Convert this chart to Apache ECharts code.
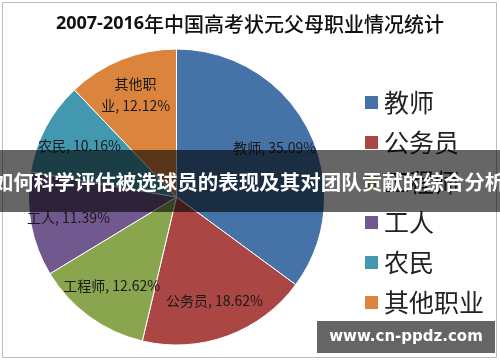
<!DOCTYPE html>
<html><head><meta charset="utf-8">
<script src="https://cdn.jsdelivr.net/npm/echarts@6/dist/echarts.min.js"></script>
<style>html,body{margin:0;padding:0;background:#fff}#c{width:500px;height:362px}</style>
</head><body><div id="c"></div>
<script>
const titleYears = '2007-2016';
const titleRest = '年中国高考状元父母职业情况统计';
const categories = ['教师','公务员','工程师','工人','农民','其他职业'];
const shares = [35.09,18.62,12.62,11.39,10.16,12.12];
const colors = ['#4572A7','#AA4643','#89A54E','#71588F','#4198AF','#DB843D'];
const bannerText = '如何科学评估被选球员的表现及其对团队贡献的综合分析';
const watermarkText = 'www.cn-ppdz.com';

const data = categories.map((n,i)=>({name:n, value:shares[i]}));
const chart = echarts.init(document.getElementById('c'), null, {renderer:'canvas'});
const fmt = p => {
  const n = p.name, v = p.value.toFixed(2) + '%';
  return n.length > 3 ? n.slice(0,3) + '\n' + n.slice(3) + ', ' + v : n + ', ' + v;
};
const CJK = '"Noto Sans CJK SC", sans-serif';
chart.setOption({
  animation:false,
  color: colors,
  title:{
    text:'{a|' + titleYears + '}{b|' + titleRest + '}',
    left:'center', top:12, padding:0,
    textStyle:{rich:{
      a:{fontFamily:'"Open Sans", sans-serif', fontWeight:'bold', fontSize:18, color:'#111', lineHeight:24},
      b:{fontFamily:CJK, fontWeight:500, fontSize:20, color:'#111', lineHeight:24}
    }}
  },
  legend:{
    orient:'vertical', left:363, top:90, padding:0,
    itemWidth:15, itemHeight:15, itemGap:15, icon:'rect',
    data: categories,
    textStyle:{fontFamily:CJK, fontSize:25, lineHeight:25, color:'#222'}
  },
  series:[
    {
      type:'pie', radius:148, center:[176.5,197], startAngle:90, clockwise:true,
      data: data, label:{show:false}, labelLine:{show:false},
      itemStyle:{borderColor:'#fff', borderWidth:1},
      emphasis:{disabled:true}
    },
    {
      type:'pie', radius:214, center:[176.5,197], startAngle:90, clockwise:true,
      data: data, silent:true, legendHoverLink:false,
      itemStyle:{color:'rgba(0,0,0,0)', borderWidth:0},
      label:{show:true, position:'inside', formatter:fmt, fontFamily:CJK, fontSize:14, lineHeight:22, color:'#1a1a1a', textBorderWidth:0},
      labelLine:{show:false},
      emphasis:{disabled:true}
    }
  ],
  graphic:[
    {type:'rect', z:0, silent:true, shape:{x:2.5,y:2.5,width:494,height:355}, style:{fill:'none', stroke:'#bdbdbd', lineWidth:1}},
    {type:'rect', z:100, shape:{x:0,y:150,width:500,height:62}, style:{fill:'rgba(0,0,0,0.6)'}},
    {type:'text', z:101, x:249, y:182, style:{text:bannerText, fill:'#fff', font:'bold 20.5px "Noto Sans CJK SC", sans-serif', textAlign:'center', textVerticalAlign:'middle'}},
    {type:'rect', z:100, shape:{x:317,y:321,width:178,height:32}, style:{fill:'#656565'}},
    {type:'text', z:101, x:406, y:337, style:{text:watermarkText, fill:'#fff', font:'bold 15px "DejaVu Sans", sans-serif', textAlign:'center', textVerticalAlign:'middle'}}
  ]
});
</script></body></html>
